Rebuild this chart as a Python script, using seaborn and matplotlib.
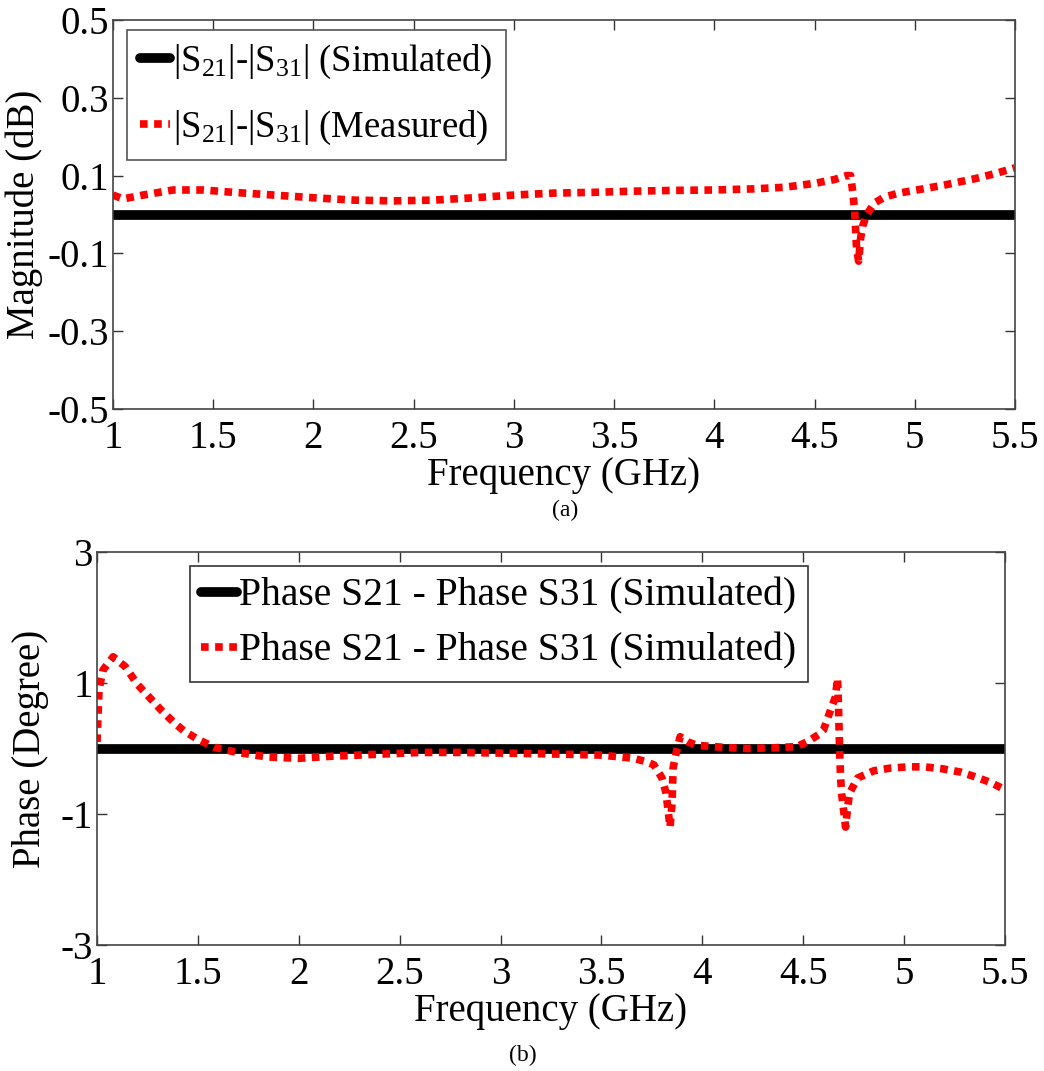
import numpy as np
import pandas as pd
import matplotlib
matplotlib.use("Agg")
import matplotlib.pyplot as plt
import seaborn as sns

# ---------------- data ----------------
freq_sim = [1.0, 5.5]
mag_sim = [0.0, 0.0]

mag_meas_f = [1.0, 1.05, 1.15, 1.3, 1.45, 1.6, 1.8, 2.0, 2.2, 2.4, 2.6, 2.8, 3.0, 3.2, 3.4,
              3.6, 3.8, 4.0, 4.2, 4.35, 4.5, 4.6, 4.66, 4.68, 4.69, 4.70, 4.705, 4.71,
              4.72, 4.73, 4.74, 4.76, 4.8, 4.85, 4.92, 5.0, 5.15, 5.3, 5.4, 5.5]
mag_meas_v = [0.05, 0.04, 0.05, 0.063, 0.063, 0.057, 0.05, 0.043, 0.037, 0.035, 0.037, 0.043,
              0.05, 0.055, 0.057, 0.06, 0.062, 0.063, 0.066, 0.07, 0.08, 0.09, 0.10, 0.10,
              0.06, 0.01, -0.04, -0.09, -0.12, -0.06, -0.03, 0.0, 0.03, 0.045, 0.055, 0.062,
              0.076, 0.092, 0.105, 0.12]

phase_sim = [0.0, 0.0]
phase_meas_f = [1.0, 1.005, 1.01, 1.03, 1.08, 1.14, 1.2, 1.26, 1.32, 1.38, 1.43, 1.5, 1.58,
                1.68, 1.78, 1.85, 2.0, 2.15, 2.3, 2.45, 2.6, 2.8, 3.0, 3.2, 3.35, 3.49, 3.6,
                3.66, 3.72, 3.76, 3.80, 3.82, 3.84, 3.85, 3.855, 3.87, 3.89, 3.93, 3.97,
                4.05, 4.15, 4.22, 4.35, 4.47, 4.53, 4.58, 4.6, 4.63, 4.66, 4.67, 4.675,
                4.68, 4.685, 4.69, 4.70, 4.71, 4.72, 4.73, 4.77, 4.85, 4.93, 5.02, 5.1,
                5.19, 5.28, 5.35, 5.43, 5.5]
phase_meas_v = [0.1, 0.5, 0.9, 1.2, 1.4, 1.25, 0.98, 0.78, 0.58, 0.4, 0.27, 0.14, 0.02,
                -0.05, -0.1, -0.13, -0.15, -0.12, -0.1, -0.08, -0.06, -0.06, -0.07, -0.08,
                -0.09, -0.1, -0.13, -0.15, -0.2, -0.25, -0.45, -0.68, -1.2, -0.83, -0.3,
                -0.07, 0.18, 0.1, 0.05, 0.03, 0.01, 0.0, 0.01, 0.03, 0.12, 0.22, 0.28, 0.54,
                0.79, 1.07, 0.63, 0.0, -0.43, -0.68, -0.94, -1.2, -0.9, -0.68, -0.45, -0.34,
                -0.3, -0.28, -0.28, -0.31, -0.36, -0.43, -0.52, -0.63]

mag_yticks = [-0.5, -0.3, -0.1, 0.1, 0.3, 0.5]
mag_ytick_labels = ["-0.5", "-0.3", "-0.1", "0.1", "0.3", "0.5"]
phase_yticks = [-3, -1, 1, 3]
phase_ytick_labels = ["-3", "-1", "1", "3"]
xticks = [1, 1.5, 2, 2.5, 3, 3.5, 4, 4.5, 5, 5.5]
xtick_labels = ["1", "1.5", "2", "2.5", "3", "3.5", "4", "4.5", "5", "5.5"]

# ---------------- style ----------------
sns.set_theme(style="ticks")
plt.rcParams["font.family"] = ["Liberation Serif", "DejaVu Serif"]
plt.rcParams["mathtext.fontset"] = "custom"
plt.rcParams["mathtext.rm"] = "Liberation Serif"
plt.rcParams["mathtext.it"] = "Liberation Serif:italic"
plt.rcParams["text.color"] = "black"
plt.rcParams["axes.labelcolor"] = "black"

fig = plt.figure(figsize=(10.44, 10.71), dpi=100)
ax1 = fig.add_axes([113 / 1044, 1 - 409 / 1071, 902 / 1044, 389 / 1071])
ax2 = fig.add_axes([97 / 1044, 1 - 945 / 1071, 908 / 1044, 393 / 1071])

dot_style = (0, (1.0, 0.85))

# --- panel (a)
df_sim_a = pd.DataFrame({"f": freq_sim, "v": mag_sim})
df_meas_a = pd.DataFrame({"f": mag_meas_f, "v": mag_meas_v})
sns.lineplot(data=df_sim_a, x="f", y="v", ax=ax1, color="black", linewidth=7,
             label=r"|S$_{21}$|-|S$_{31}$| (Simulated)", sort=False)
sns.lineplot(data=df_meas_a, x="f", y="v", ax=ax1, color="#ff0000", linewidth=5.5,
             linestyle=dot_style, dash_capstyle="butt",
             label=r"|S$_{21}$|-|S$_{31}$| (Measured)", sort=False)
ax1.set_xlim(1, 5.5)
ax1.set_ylim(-0.5, 0.5)
ax1.set_yticks(mag_yticks)
ax1.set_yticklabels(mag_ytick_labels)
ax1.set_xticks(xticks)
ax1.set_xticklabels(xtick_labels)
ax1.set_xlabel("Frequency (GHz)", fontsize=28, labelpad=0)
ax1.set_ylabel("Magnitude (dB)", fontsize=28, labelpad=3)
ax1.tick_params(axis="both", direction="in", length=7, width=1, labelsize=28,
                top=True, right=True, pad=3, colors="#333333", labelcolor="black")
ax1.tick_params(axis="x", pad=8)
leg1 = ax1.legend(loc="upper left", bbox_to_anchor=(0.016, 0.975), fontsize=26.5,
                  handlelength=0.8, handletextpad=0.1, borderpad=0.35, labelspacing=0.75,
                  fancybox=False, edgecolor="#555555", framealpha=1, borderaxespad=0)
leg1.get_frame().set_linewidth(1.2)
fig.text(565 / 1044, 1 - 510 / 1071, "(a)", ha="center", va="center", fontsize=17)

# --- panel (b)
df_sim_b = pd.DataFrame({"f": freq_sim, "v": phase_sim})
df_meas_b = pd.DataFrame({"f": phase_meas_f, "v": phase_meas_v})
sns.lineplot(data=df_sim_b, x="f", y="v", ax=ax2, color="black", linewidth=7,
             label="Phase S21 - Phase S31 (Simulated)", sort=False)
sns.lineplot(data=df_meas_b, x="f", y="v", ax=ax2, color="#ff0000", linewidth=5.5,
             linestyle=dot_style, dash_capstyle="butt",
             label="Phase S21 - Phase S31 (Simulated)", sort=False)
ax2.set_xlim(1, 5.5)
ax2.set_ylim(-3, 3)
ax2.set_yticks(phase_yticks)
ax2.set_yticklabels(phase_ytick_labels)
ax2.set_xticks(xticks)
ax2.set_xticklabels(xtick_labels)
ax2.set_xlabel("Frequency (GHz)", fontsize=28, labelpad=0)
ax2.set_ylabel("Phase (Degree)", fontsize=28, labelpad=8)
ax2.tick_params(axis="both", direction="in", length=7, width=1, labelsize=28,
                top=True, right=True, pad=3, colors="#333333", labelcolor="black")
ax2.tick_params(axis="x", pad=8)
leg2 = ax2.legend(loc="upper left", bbox_to_anchor=(0.102, 0.965), fontsize=28.5,
                  handlelength=0.9, handletextpad=0.05, borderpad=0.3, labelspacing=0.45,
                  fancybox=False, edgecolor="#333333", framealpha=1, borderaxespad=0)
leg2.get_frame().set_linewidth(1.2)
fig.text(523 / 1044, 1 - 1055 / 1071, "(b)", ha="center", va="center", fontsize=17)

for ax in (ax1, ax2):
    for s in ax.spines.values():
        s.set_color("#444444")
        s.set_linewidth(1.2)

fig.savefig("out.png", dpi=100)
